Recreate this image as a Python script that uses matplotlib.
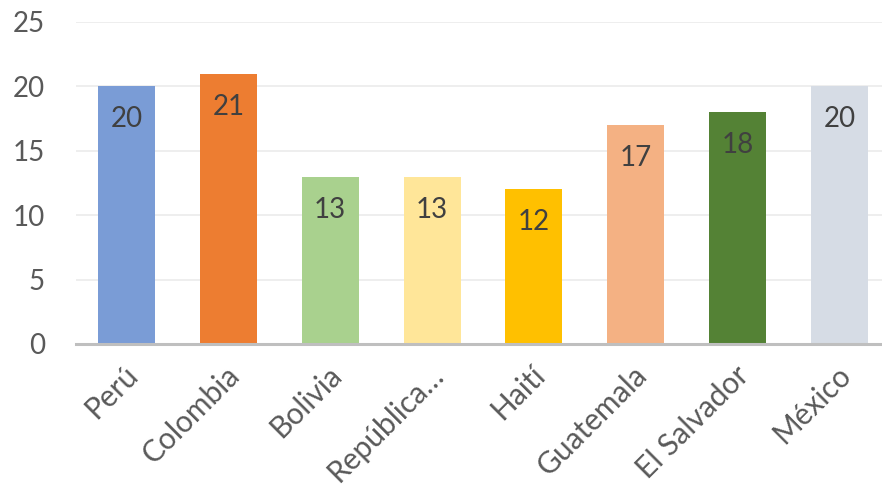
import matplotlib
matplotlib.use("Agg")
import matplotlib.pyplot as plt
import matplotlib.transforms as mtransforms

# Data
countries = ["Perú", "Colombia", "Bolivia", "República…", "Haití",
             "Guatemala", "El Salvador", "México"]
values = [20, 21, 13, 13, 12, 17, 18, 20]
colors = ["#7A9CD6", "#ED7D31", "#A9D18E", "#FFE699", "#FFC000",
          "#F4B183", "#548235", "#D6DCE5"]

plt.rcParams['font.family'] = ['Lato', 'DejaVu Sans']

fig = plt.figure(figsize=(8.82, 4.92), dpi=100)
ax = fig.add_axes([75.5 / 882, 148 / 492, 815 / 882, 322 / 492])

x = list(range(len(countries)))
bars = ax.bar(x, values, width=0.56, color=colors, zorder=3)

for xi, v in zip(x, values):
    ax.annotate(str(v), xy=(xi, v), xytext=(0, -33), textcoords="offset pixels",
                ha="center", va="center", fontsize=20, color="#404040", zorder=4)

ax.set_xlim(-0.5, len(countries) - 0.5)
ax.set_ylim(0, 25)
ax.set_yticks([0, 5, 10, 15, 20, 25])
ax.yaxis.grid(True, color="#EBEBEB", linewidth=1.2, zorder=0)
ax.set_axisbelow(True)

for s in ["top", "right", "left"]:
    ax.spines[s].set_visible(False)
ax.spines["bottom"].set_color("#BFBFBF")
ax.spines["bottom"].set_linewidth(2.2)
ax.spines["bottom"].set_zorder(5)

ax.tick_params(axis="y", length=0, pad=22, labelsize=20, labelcolor="#595959")
ax.tick_params(axis="x", length=0, pad=12, labelsize=21.5, labelcolor="#595959")
ax.set_xticks(x)
ax.set_xticklabels(countries, rotation=45, ha="right", rotation_mode="anchor")

# nudge the rotated labels a little to the left
shift = mtransforms.ScaledTranslation(-3 / 100, 0, fig.dpi_scale_trans)
for lab in ax.get_xticklabels():
    lab.set_transform(lab.get_transform() + shift)

fig.savefig("out.png", dpi=100)
